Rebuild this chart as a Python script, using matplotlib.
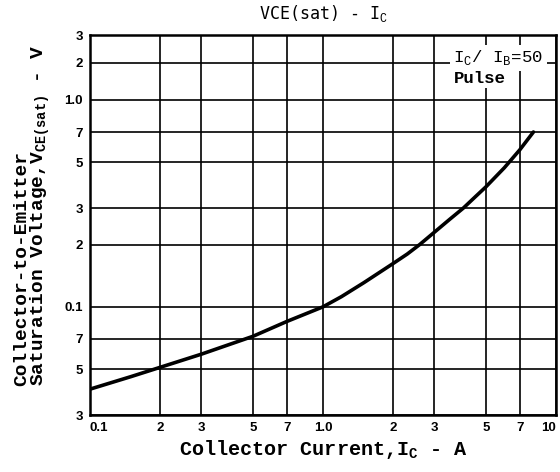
import numpy as np
import matplotlib
matplotlib.use("Agg")
import matplotlib.pyplot as plt

# VCE(sat) - IC curve
ic_amps = [0.1, 0.15, 0.2, 0.3, 0.5, 0.7, 1.0, 1.2, 1.5, 2.0, 2.3, 2.6, 3.0,
           3.5, 4.0, 4.5, 5.0, 6.0, 7.0, 8.0]
vce_sat = [0.040, 0.046, 0.051, 0.059, 0.072, 0.085, 0.100, 0.112, 0.131,
           0.162, 0.180, 0.200, 0.229, 0.265, 0.300, 0.340, 0.380, 0.470,
           0.575, 0.700]

x_ticks = [0.1, 0.2, 0.3, 0.5, 0.7, 1.0, 2, 3, 5, 7, 10]
x_tick_labels = ['0.1', '2', '3', '5', '7', '1.0', '2', '3', '5', '7', '10']
y_ticks = [0.03, 0.05, 0.07, 0.1, 0.2, 0.3, 0.5, 0.7, 1.0, 2, 3]
y_tick_labels = ['3', '5', '7', '0.1', '2', '3', '5', '7', '1.0', '2', '3']

plt.rcParams['mathtext.fontset'] = 'custom'
plt.rcParams['mathtext.rm'] = 'Liberation Mono'
plt.rcParams['mathtext.bf'] = 'Liberation Mono:bold'

MONO = 'Liberation Mono'

# the printed graph squeezes the decade above 1.0, so use a piecewise log scale
_log_pts = [-6.0, 0.0, np.log10(2), np.log10(3), 3.0]
_pos_pts = [-6.0, 0.0, 0.179, 0.314, 0.314 + (3.0 - np.log10(3)) * 0.76]


def _forward(y):
    y = np.clip(np.asarray(y, dtype=float), 1e-6, None)
    return np.interp(np.log10(y), _log_pts, _pos_pts)


def _inverse(u):
    return 10 ** np.interp(np.asarray(u, dtype=float), _pos_pts, _log_pts)


fig = plt.figure(figsize=(5.6, 4.72), dpi=100)
ax = fig.add_axes([90 / 560, 1 - 415 / 472, (556 - 90) / 560, (415 - 35) / 472])

ax.set_xscale('log')
ax.set_yscale('function', functions=(_forward, _inverse))
ax.set_xlim(0.1, 10)
ax.set_ylim(0.03, 3)

ax.plot(ic_amps, vce_sat, color='black', lw=2.6, solid_capstyle='round',
        solid_joinstyle='round', zorder=3)

ax.set_xticks(x_ticks)
ax.set_xticklabels(x_tick_labels)
ax.set_yticks(y_ticks)
ax.set_yticklabels(y_tick_labels)
ax.minorticks_off()
ax.tick_params(length=0, pad=5)
for lbl in ax.get_xticklabels() + ax.get_yticklabels():
    lbl.set_fontweight('bold')
    lbl.set_fontsize(9.5)
    lbl.set_family('Liberation Sans')
xlbls = ax.get_xticklabels()
xlbls[0].set_horizontalalignment('left')
xlbls[-1].set_horizontalalignment('right')

ax.grid(True, which='major', color='black', lw=1.2)
for sp in ax.spines.values():
    sp.set_linewidth(1.8)

ax.text(0.5, 1.03, 'VCE(sat) - I$_{\\mathrm{C}}$', transform=ax.transAxes,
        ha='center', va='bottom', fontsize=12, family='DejaVu Sans Mono')

ax.text(0.78, 0.94, 'I$_{\\mathrm{C}}$/ I$_{\\mathrm{B}}$=50', transform=ax.transAxes,
        ha='left', va='center', fontsize=12.5, family=MONO,
        bbox=dict(facecolor='white', edgecolor='none', pad=2.5), zorder=4)
ax.text(0.78, 0.885, 'Pulse', transform=ax.transAxes,
        ha='left', va='center', fontsize=12.5, family=MONO, fontweight='bold',
        bbox=dict(facecolor='white', edgecolor='none', pad=1.5), zorder=4)

ax.set_xlabel('Collector Current,I$_{\\mathbf{C}}$ - A', fontsize=14.5,
              fontweight='bold', family=MONO, labelpad=3)

fig.text(13 / 560, 1 - 386 / 472,
         'Collector-to-Emitter\nSaturation Voltage,V$_{\\mathbf{CE(sat)}}$ - V',
         rotation=90, ha='left', va='bottom', multialignment='left',
         fontsize=14, fontweight='bold', family=MONO, linespacing=0.9)

fig.savefig('out.png', dpi=100)
